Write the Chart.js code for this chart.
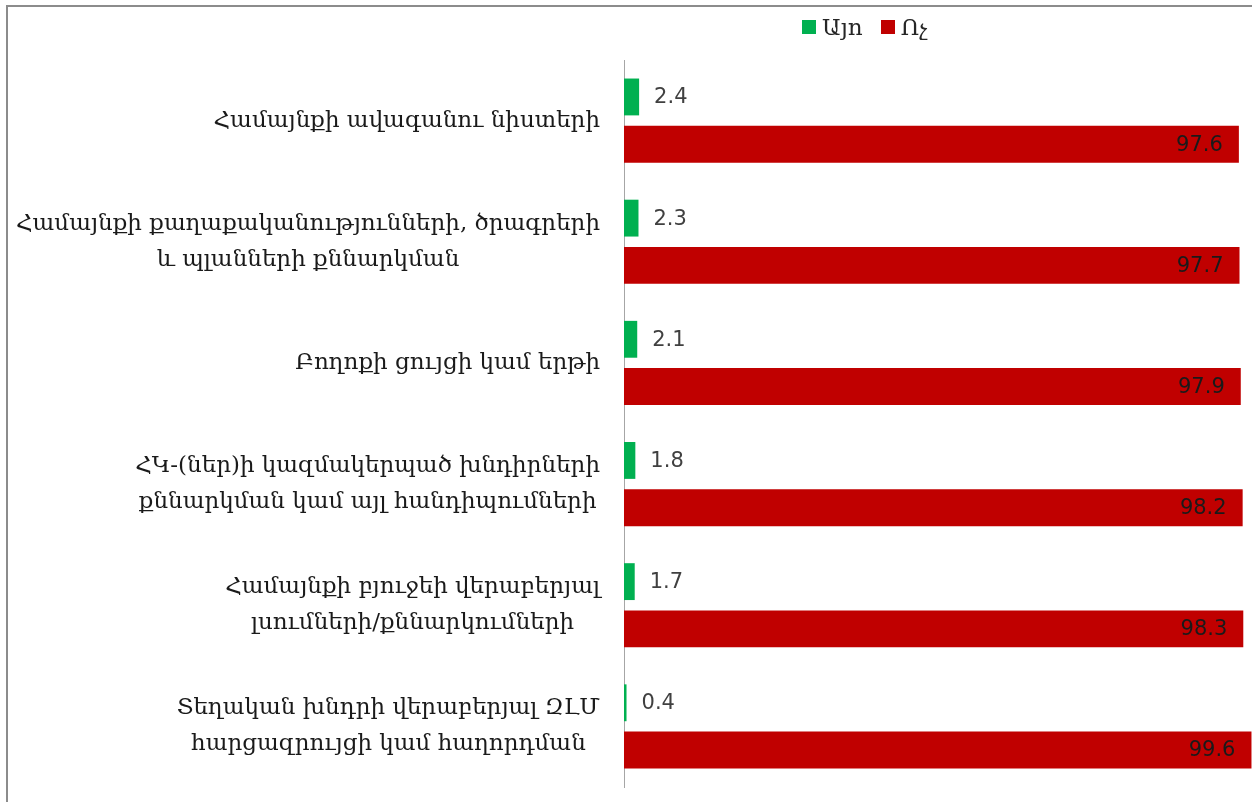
<!DOCTYPE html>
<html>
<head>
<meta charset="utf-8">
<script src="https://cdn.jsdelivr.net/npm/chart.js@4.4.0/dist/chart.umd.min.js"></script>
<style>
  html, body { margin: 0; padding: 0; background: #fff; overflow: hidden; }
  #wrap { position: relative; width: 1252px; height: 802px; overflow: hidden; }
  #frame { position: absolute; left: 6px; top: 5px; width: 1300px; height: 900px;
           border-left: 2px solid #8c8c8c; border-top: 2px solid #8c8c8c; }
  #myChart { position: absolute; left: 0; top: 0; }
  #legend { position: absolute; left: 802px; top: 14px; font: 23px "DejaVu Serif", serif; color: #262626;
            display: flex; align-items: center; white-space: nowrap; }
  #legend .sw { display: inline-block; width: 14px; height: 14px; margin-right: 6px; }
  #legend .it { display: flex; align-items: center; margin-right: 18px; }
</style>
</head>
<body>
<div id="wrap">
  <div id="frame"></div>
  <canvas id="myChart" width="1254" height="802"></canvas>
  <div id="legend"></div>
</div>
<script>
// 카테고리 (줄 단위로 나눔)
var arr_labels = [
    ['Համայնքի ավագանու նիստերի'],
    ['Համայնքի քաղաքականությունների, ծրագրերի', 'և պլանների քննարկման'],
    ['Բողոքի ցույցի կամ երթի'],
    ['ՀԿ-(ներ)ի կազմակերպած խնդիրների', 'քննարկման կամ այլ հանդիպումների'],
    ['Համայնքի բյուջեի վերաբերյալ', 'լսումների/քննարկումների'],
    ['Տեղական խնդրի վերաբերյալ ԶԼՄ', 'հարցազրույցի կամ հաղորդման']
];
var arr_series = ['Այո', 'Ոչ'];
var arr_yes = [2.4, 2.3, 2.1, 1.8, 1.7, 0.4];
var arr_no = [97.6, 97.7, 97.9, 98.2, 98.3, 99.6];
var arr_colors = ['#00B050', '#C00000'];

var AXIS_LEFT = 624;
var labelFont = '23px "DejaVu Serif", serif';
var valueFont = '21px "DejaVu Sans", sans-serif';

// 범례
var legend = document.getElementById('legend');
for (let i = 0; i < arr_series.length; i++) {
    var it = document.createElement('span');
    it.className = 'it';
    it.innerHTML = '<span class="sw" style="background:' + arr_colors[i] + '"></span>' + arr_series[i];
    legend.appendChild(it);
}

// 왼쪽 항목 이름: 블록은 오른쪽 정렬, 줄은 가운데 정렬
const categoryLabels = {
    id: 'categoryLabels',
    afterDraw(chart) {
        const ctx = chart.ctx;
        const yScale = chart.scales.y;
        ctx.save();
        ctx.font = labelFont;
        ctx.fillStyle = '#1a1a1a';
        ctx.textAlign = 'center';
        ctx.textBaseline = 'middle';
        for (let i = 0; i < arr_labels.length; i++) {
            const lines = arr_labels[i];
            let maxW = 0;
            lines.forEach(l => { maxW = Math.max(maxW, ctx.measureText(l).width); });
            const cx = 600 - maxW / 2;
            const cy = yScale.getPixelForValue(i);
            const lh = 36;
            const y0 = cy - (lines.length - 1) * lh / 2;
            lines.forEach((l, k) => ctx.fillText(l, cx, y0 + k * lh));
        }
        ctx.restore();
    }
};

// 값 라벨
const valueLabels = {
    id: 'valueLabels',
    afterDatasetsDraw(chart) {
        const ctx = chart.ctx;
        ctx.save();
        ctx.font = valueFont;
        ctx.textBaseline = 'middle';
        chart.data.datasets.forEach((ds, d) => {
            chart.getDatasetMeta(d).data.forEach((bar, i) => {
                const v = ds.data[i].toFixed(1);
                if (d === 0) {
                    ctx.textAlign = 'left';
                    ctx.fillStyle = '#404040';
                    ctx.fillText(v, bar.x + 15, bar.y + 1);
                } else {
                    ctx.textAlign = 'right';
                    ctx.fillStyle = '#1a1a1a';
                    ctx.fillText(v, bar.x - 16, bar.y + 1);
                }
            });
        });
        ctx.restore();
    }
};

var ctx = document.getElementById('myChart').getContext('2d');
var myChart = new Chart(ctx, {
    type: 'bar',
    data: {
        labels: arr_labels.map(l => l.join(' ')),
        datasets: [
            { label: arr_series[0], data: arr_yes, backgroundColor: arr_colors[0],
              barPercentage: 0.78, categoryPercentage: 0.78 },
            { label: arr_series[1], data: arr_no, backgroundColor: arr_colors[1],
              barPercentage: 0.78, categoryPercentage: 0.78 }
        ]
    },
    options: {
        indexAxis: 'y',
        responsive: false,
        animation: false,
        layout: { padding: { top: 60, bottom: 15, left: 0, right: 0 } },
        plugins: {
            legend: { display: false },
            tooltip: { enabled: false }
        },
        scales: {
            x: {
                min: 0,
                max: 100,
                display: false
            },
            y: {
                grid: { display: false },
                border: { display: true, color: '#a6a6a6', width: 1 },
                ticks: { display: false },
                afterFit(scale) { scale.width = AXIS_LEFT; }
            }
        }
    },
    plugins: [categoryLabels, valueLabels]
});
</script>
</body>
</html>
